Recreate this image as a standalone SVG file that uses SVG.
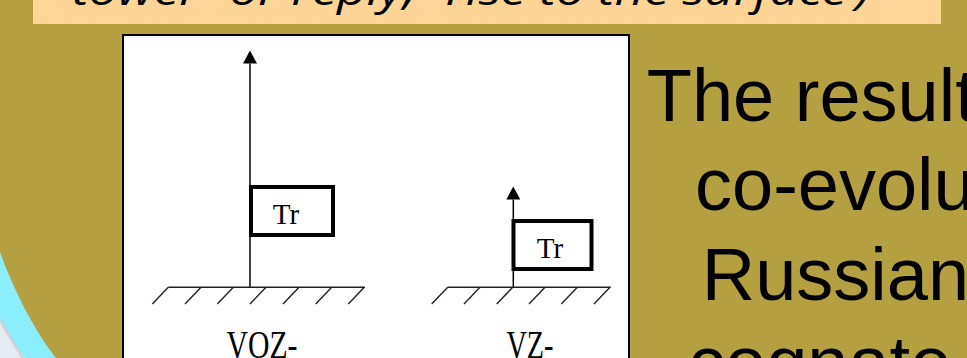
<svg xmlns="http://www.w3.org/2000/svg" width="967" height="358" viewBox="0 0 967 358">
  <style>
    .ln { stroke: #000; stroke-width: 1.5; fill: none; }
    .hatch { stroke: #222; stroke-width: 1.4; fill: none; }
    .box { fill: #fff; stroke: #000; stroke-width: 4; }
    .tr { font-family: "Liberation Serif", serif; font-size: 29px; fill: #000; text-anchor: middle; }
    .lbl { font-family: "Liberation Serif", serif; font-size: 41px; fill: #000; text-anchor: middle; }
    .big { font-family: "Liberation Sans", Arial, sans-serif; font-size: 74px; fill: #000; }
    .top { font-family: "Open Sans", "DejaVu Sans", sans-serif; font-style: italic; font-size: 40px; fill: #000; }
  </style>
  <defs>
    <marker id="ah" markerUnits="userSpaceOnUse" markerWidth="14" markerHeight="14" viewBox="0 0 13 14" refX="0" refY="7" orient="auto">
      <path d="M0,0 L13,7 L0,14 Z" fill="#000"/>
    </marker>
  </defs>

  <!-- background -->
  <rect x="0" y="0" width="967" height="358" fill="#B4A041"/>
  <path d="M0,252 C10,280 30,325 56,358 L0,358 Z" fill="#8AEEFC"/>
  <path d="M0,318 C9,334 17,347 25,358 L0,358 Z" fill="#E6ECF3"/>
  <path d="M0,320 C8,334 16,347 23,358" fill="none" stroke="#BFC5CD" stroke-width="3" opacity="0.6"/>

  <!-- top orange text box (cut off) -->
  <g id="topbox">
    <rect x="33" y="0" width="908" height="24" fill="#FFD597"/>
    <text class="top" x="72" y="5" textLength="798" lengthAdjust="spacingAndGlyphs">tower’ ‘or reply,’ ‘rise to the surface’)</text>
  </g>

  <!-- white picture frame -->
  <g id="frame">
    <rect x="123" y="35" width="506" height="340" fill="#fff" stroke="#000" stroke-width="2"/>
  </g>

  <!-- connectors -->
  <g id="connectors">
    <line class="ln" x1="250" y1="287.3" x2="250" y2="63.5" marker-end="url(#ah)"/>
    <line class="ln" x1="513.3" y1="287.3" x2="513.3" y2="199.5" marker-end="url(#ah)"/>
  </g>

  <!-- left ground -->
  <g id="ground-left">
    <line class="hatch" x1="168.3" y1="287.3" x2="365" y2="287.3"/>
    <path class="hatch" d="M168.3,287.3 l-16,16.7 M201,287.3 l-16,16.7 M233.3,287.3 l-16,16.7 M266,287.3 l-16,16.7 M299,287.3 l-16,16.7 M331.7,287.3 l-16,16.7 M364.3,287.3 l-16,16.7"/>
  </g>

  <!-- right ground -->
  <g id="ground-right">
    <line class="hatch" x1="447.7" y1="287.3" x2="610.7" y2="287.3"/>
    <path class="hatch" d="M447.7,287.3 l-16,16.7 M480,287.3 l-16,16.7 M512.7,287.3 l-16,16.7 M545,287.3 l-16,16.7 M577.3,287.3 l-16,16.7 M610,287.3 l-16,16.7"/>
  </g>

  <!-- Tr boxes -->
  <g id="tr-left">
    <rect class="box" x="251" y="187" width="82" height="48"/>
    <text class="tr" x="286" y="224">Tr</text>
  </g>
  <g id="tr-right">
    <rect class="box" x="513.5" y="221" width="78" height="48"/>
    <text class="tr" x="550" y="258">Tr</text>
  </g>

  <!-- labels -->
  <g id="label-voz">
    <text class="lbl" x="262" y="358" textLength="71" lengthAdjust="spacingAndGlyphs">VOZ-</text>
  </g>
  <g id="label-vz">
    <text class="lbl" x="530" y="358" textLength="47" lengthAdjust="spacingAndGlyphs">VZ-</text>
  </g>

  <!-- right side text -->
  <g id="body-text">
    <text class="big" x="646.7" y="121">The result</text>
    <text class="big" x="695" y="210">co-evolu</text>
    <text class="big" x="701.7" y="300">Russian</text>
    <text class="big" x="688" y="388">cognate</text>
  </g>
</svg>
